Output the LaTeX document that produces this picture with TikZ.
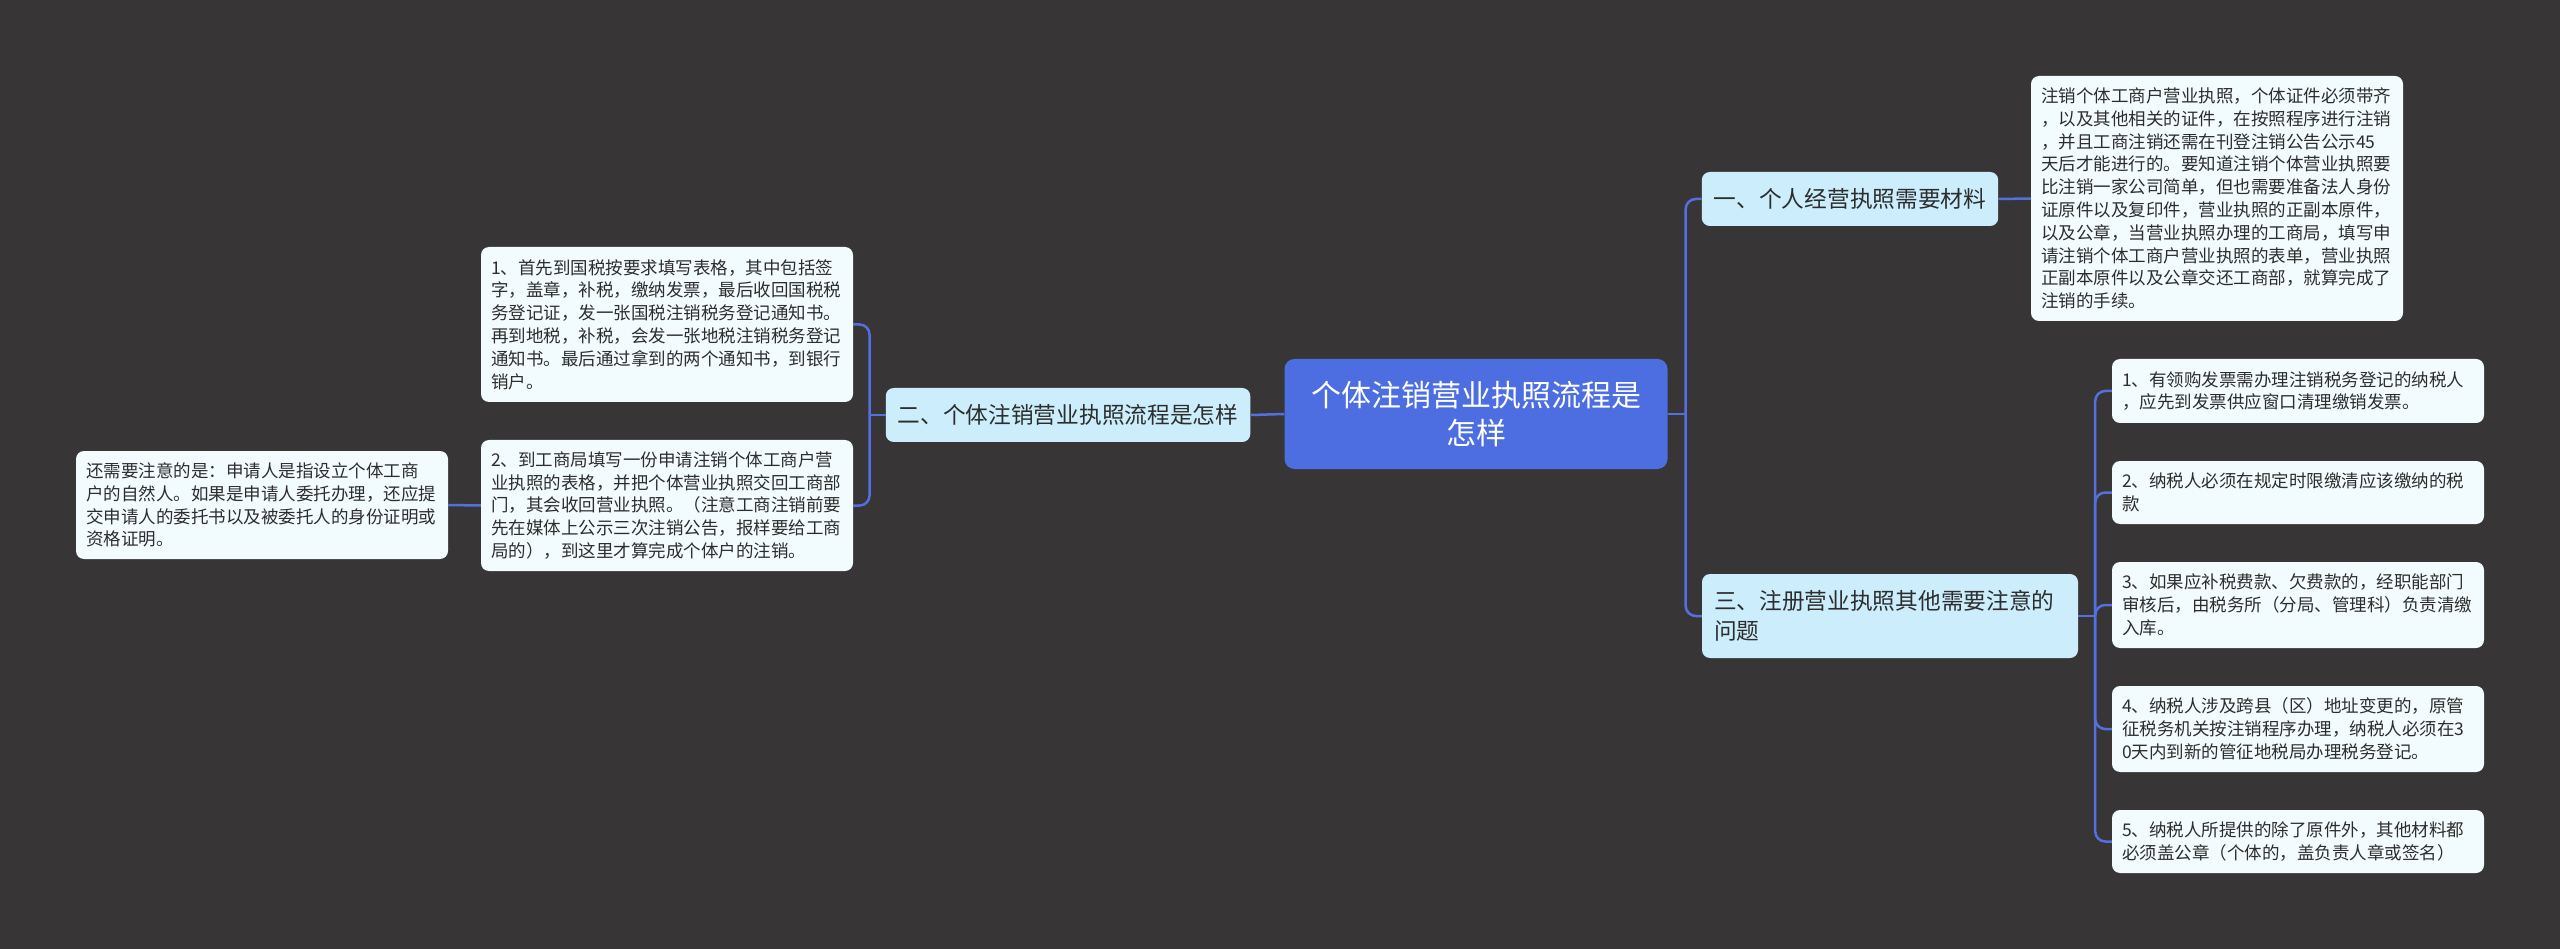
\documentclass[tikz,border=0pt]{standalone}
\usepackage{fontspec}
\setmainfont{Noto Sans CJK SC}

\begin{document}
\begin{tikzpicture}[x=1pt, y=-1pt,
  box/.style={rounded corners=8, inner xsep=10, inner ysep=0, text=textc, align=left},
  leafbox/.style={box, fill=leafc, text width=352, font={\fontsize{17.5}{22.8}\selectfont}},
  branchbox/.style={box, fill=branchc, inner xsep=12, font={\fontsize{22.7}{30}\selectfont}},
  rootbox/.style={box, fill=rootc, text=white, align=center, text width=330, rounded corners=10, font={\fontsize{30}{38}\selectfont}},
  link/.style={draw=linec, line width=2.5}]
\definecolor{bgc}{RGB}{55,53,53}
\definecolor{rootc}{RGB}{77,110,225}
\definecolor{branchc}{RGB}{204,238,252}
\definecolor{leafc}{RGB}{242,252,254}
\definecolor{linec}{RGB}{84,112,224}
\definecolor{textc}{RGB}{45,45,45}

\fill[bgc] (0,0) rectangle (2560,949);
\useasboundingbox (0,0) rectangle (2560,949);

% centre and main branches
\node[rootbox, minimum width=383, minimum height=110] (root) at (1476,414) {个体注销营业执照流程是\\怎样};
\node[branchbox, minimum height=54] (b1) at (1850,199) {一、个人经营执照需要材料};
\node[branchbox, minimum height=54] (b2) at (1068,415) {二、个体注销营业执照流程是怎样};
\node[branchbox, text width=352, minimum height=84] (b3) at (1890,616) {三、注册营业执照其他需要注意的\\问题};

% branch one
\node[leafbox, minimum height=245] (a1) at (2217,198.5) {注销个体工商户营业执照，个体证件必须带齐\\，以及其他相关的证件，在按照程序进行注销\\，并且工商注销还需在刊登注销公告公示45\\天后才能进行的。要知道注销个体营业执照要\\比注销一家公司简单，但也需要准备法人身份\\证原件以及复印件，营业执照的正副本原件，\\以及公章，当营业执照办理的工商局，填写申\\请注销个体工商户营业执照的表单，营业执照\\正副本原件以及公章交还工商部，就算完成了\\注销的手续。};

% branch two
\node[leafbox, minimum height=155] (d1) at (667,324.5) {1、首先到国税按要求填写表格，其中包括签\\字，盖章，补税，缴纳发票，最后收回国税税\\务登记证，发一张国税注销税务登记通知书。\\再到地税，补税，会发一张地税注销税务登记\\通知书。最后通过拿到的两个通知书，到银行\\销户。};
\node[leafbox, minimum height=131] (d2) at (667,505.5) {2、到工商局填写一份申请注销个体工商户营\\业执照的表格，并把个体营业执照交回工商部\\门，其会收回营业执照。（注意工商注销前要\\先在媒体上公示三次注销公告，报样要给工商\\局的），到这里才算完成个体户的注销。};
\node[leafbox, minimum height=108] (e1) at (262,505) {还需要注意的是：申请人是指设立个体工商\\户的自然人。如果是申请人委托办理，还应提\\交申请人的委托书以及被委托人的身份证明或\\资格证明。};

% branch three
\foreach \i/\y/\h/\txt in {
    1/391/64/{1、有领购发票需办理注销税务登记的纳税人\\，应先到发票供应窗口清理缴销发票。},
    2/492.5/63/{2、纳税人必须在规定时限缴清应该缴纳的税\\款},
    3/605/86/{3、如果应补税费款、欠费款的，经职能部门\\审核后，由税务所（分局、管理科）负责清缴\\入库。},
    4/729/86/{4、纳税人涉及跨县（区）地址变更的，原管\\征税务机关按注销程序办理，纳税人必须在3\\0天内到新的管征地税局办理税务登记。},
    5/841.5/63/{5、纳税人所提供的除了原件外，其他材料都\\必须盖公章（个体的，盖负责人章或签名）}
}{
  \node[leafbox, minimum height=\h] (c\i) at (2298,\y) {\txt};
}

% connectors
\draw[link] (root.west) -- (b2.east);
\draw[link] (root.east) -- ++(18,0) coordinate (sR);
\draw[link, rounded corners=10] (sR) |- (b1.west);
\draw[link, rounded corners=10] (sR) |- (b3.west);
\draw[link] (b1.east) -- (a1.west);
\draw[link] (b3.east) -- ++(17,0) coordinate (sC);
\foreach \i in {1,...,5}{
  \draw[link, rounded corners=10] (sC) |- (c\i.west);
}
\draw[link] (b2.west) -- ++(-16,0) coordinate (sL);
\draw[link, rounded corners=10] (sL) |- (d1.east);
\draw[link, rounded corners=10] (sL) |- (d2.east);
\draw[link] (d2.west) -- (e1.east);
\end{tikzpicture}
\end{document}
